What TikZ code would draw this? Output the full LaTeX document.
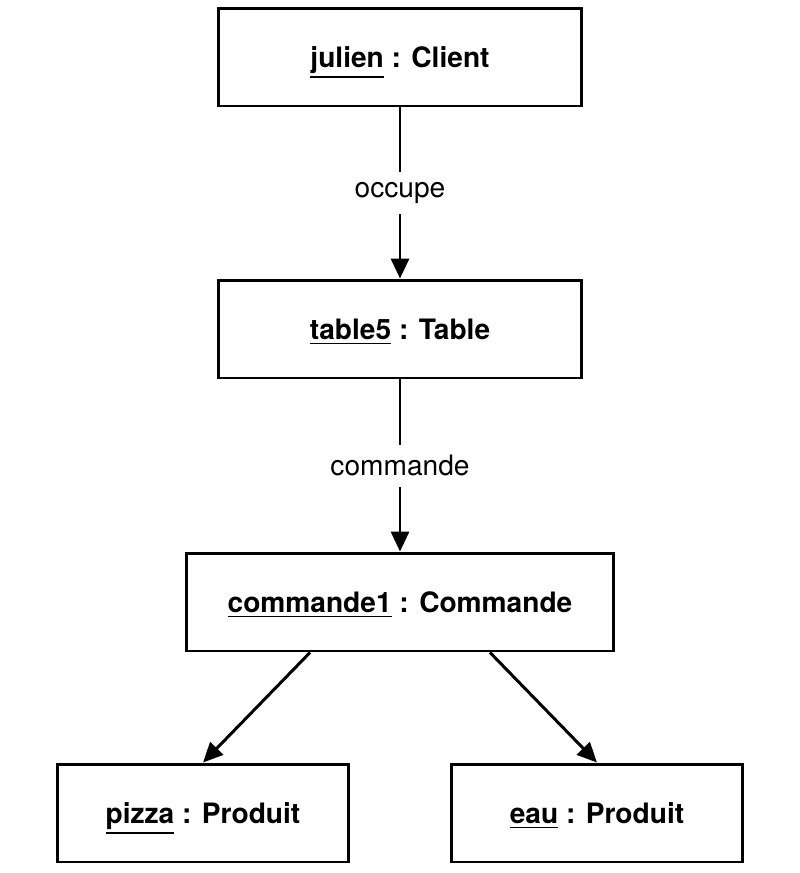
\documentclass[tikz,border=0pt]{standalone}
\usepackage{fontspec}
\setmainfont{TeX Gyre Heros}
\usetikzlibrary{arrows.meta}

% thicker underline for the instance names
\newcommand{\instname}[1]{\vtop{\hbox{#1}\kern1.8pt\hrule height 1.1pt}}

\begin{document}
\begin{tikzpicture}[x=0.02cm, y=-0.02cm,
    obj/.style={draw, line width=1.7pt, minimum height=1.96cm,
      text height=11.5pt, text depth=0pt,
      font=\fontsize{16}{19}\selectfont\bfseries},
    link/.style={line width=1.7pt, -{Triangle[length=11.3pt, width=10.2pt]}},
    lbl/.style={fill=white, inner sep=6pt, font=\fontsize{16}{19}\selectfont}]
  % Fix the page size
  \useasboundingbox (0,0) rectangle (800,873);

  % Object boxes
  \node[obj, minimum width=7.28cm] (client) at (400,57) {\instname{julien} : Client};
  \node[obj, minimum width=7.28cm] (table) at (400,329) {\instname{table5} : Table};
  \node[obj, minimum width=8.56cm] (cmd) at (400,602) {\instname{commande1} : Commande};
  \node[obj, minimum width=5.84cm] (pizza) at (203,813) {\instname{pizza} : Produit};
  \node[obj, minimum width=5.84cm] (eau) at (597,813) {\instname{eau} : Produit};

  % Links
  \draw[link] (client) -- node[lbl] {occupe} (table);
  \draw[link] (table) -- node[lbl] {commande} (cmd);
  \draw[link] ([xshift=-1.8cm]cmd.south) -- (pizza.north);
  \draw[link] ([xshift=1.8cm]cmd.south) -- (eau.north);
\end{tikzpicture}
\end{document}
